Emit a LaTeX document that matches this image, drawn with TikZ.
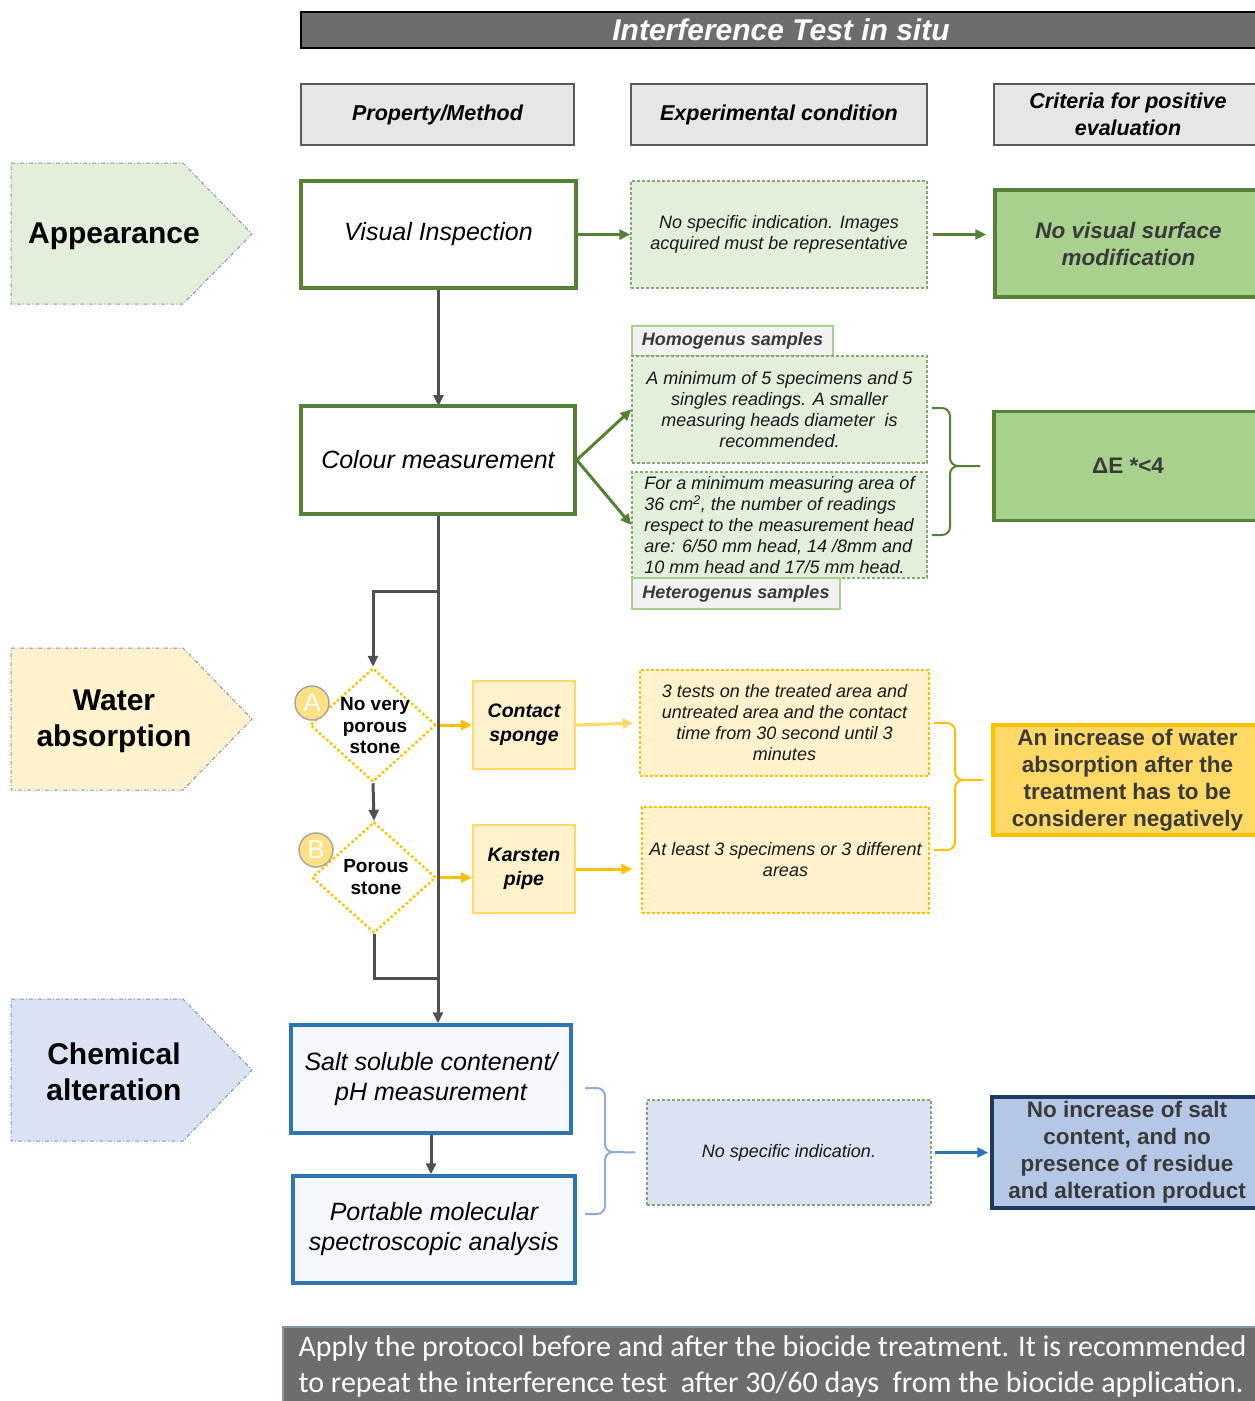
\documentclass[tikz,border=0pt]{standalone}
\usepackage{fontspec}
\setmainfont{Liberation Sans}
\newfontfamily\calibri{Carlito}
\usetikzlibrary{arrows.meta,positioning,shapes.geometric}

\definecolor{darkgreen}{HTML}{548235}
\definecolor{midgreen}{HTML}{A9D18E}
\definecolor{greenfill}{HTML}{E2EFDA}
\definecolor{orange}{HTML}{FFC000}
\definecolor{paleorange}{HTML}{FFD966}
\definecolor{yellowfill}{HTML}{FFF2CC}
\definecolor{bluec}{HTML}{2E75B6}
\definecolor{navy}{HTML}{203864}
\definecolor{midblue}{HTML}{B4C7E7}
\definecolor{bluefill}{HTML}{DAE3F3}
\definecolor{paleblue}{HTML}{F4F7FC}
\definecolor{bracelue}{HTML}{8FAADC}
\definecolor{titlegray}{HTML}{6D6D6D}
\definecolor{headfill}{HTML}{E7E6E6}
\definecolor{headgray}{HTML}{595959}
\definecolor{linegray}{HTML}{505050}
\definecolor{textgray}{HTML}{3A3A3A}
\definecolor{labfill}{HTML}{F2F2F2}
\definecolor{tagline}{HTML}{8497B0}
\definecolor{markerfill}{HTML}{FFE082}
\definecolor{markergray}{HTML}{A6A6A6}

\begin{document}
\begin{tikzpicture}[x=1pt,y=-1pt,
	titlebar/.style={draw=black, line width=2.5pt, fill=titlegray, text=white, font=\fontsize{30}{36}\selectfont\bfseries\itshape, minimum width=960, minimum height=36},
	colhead/.style={draw=headgray, line width=1.5pt, fill=headfill, font=\fontsize{21.5}{27}\selectfont\bfseries\itshape, align=center, minimum height=61},
	tag/.style={draw=tagline, line width=1pt, dash pattern=on 4pt off 2pt on 1pt off 2pt},
	tagtext/.style={font=\fontsize{30}{36}\selectfont\bfseries, align=center},
	method/.style={draw, line width=3.5pt, font=\fontsize{25}{30}\selectfont\itshape, align=center},
	cond/.style={draw, line width=1.2pt, dash pattern=on 3pt off 2pt, text=black!90, font=\fontsize{18}{21}\selectfont\itshape, align=center},
	result/.style={draw, line width=3.5pt, text=textgray, font=\fontsize{22.5}{27}\selectfont\bfseries, align=center},
	samplelab/.style={draw=midgreen, line width=1.2pt, fill=labfill, text=textgray, font=\fontsize{18}{21}\selectfont\bfseries\itshape},
	choice/.style={diamond, draw=orange, line width=2.5pt, dash pattern=on 2.5pt off 2.5pt, fill=white, minimum width=126, minimum height=114, inner sep=0},
	choicetext/.style={font=\fontsize{19}{21.5}\selectfont\bfseries, align=center},
	tool/.style={draw=paleorange, line width=2pt, fill=yellowfill, minimum width=102, minimum height=88, font=\fontsize{19.5}{24}\selectfont\bfseries\itshape, align=center},
	marker/.style={circle, draw=markergray, line width=1.5pt, fill=markerfill, text=white, minimum size=34, inner sep=0, font=\fontsize{26}{26}\selectfont},
	flow/.style={draw=linegray, line width=3pt, -{Triangle[length=11pt,width=10pt]}},
	link/.style={line width=3pt, -{Triangle[length=11pt,width=10pt]}},
	brace/.style={line width=2pt, rounded corners=8pt}]
	\useasboundingbox (0,0) rectangle (1255,1401);

	% heading
	\node[titlebar] (title) at (781,30) {Interference Test in situ};
	\node[colhead, minimum width=273] (hprop) at (437.5,114.5) {Property/Method};
	\node[colhead, minimum width=296] (hcond) at (779,114.5) {Experimental condition};
	\node[colhead, minimum width=268] (hcrit) at (1128,114.5) {Criteria for positive\\evaluation};

	% property tags
	\draw[tag, fill=greenfill] (11,163) -- (183,163) -- (252,234) -- (183,304) -- (11,304) -- cycle;
	\node[tagtext] (appear) at (114,236) {Appearance};
	\draw[tag, fill=yellowfill] (11,648) -- (183,648) -- (252,719) -- (183,790) -- (11,790) -- cycle;
	\node[tagtext] (water) at (114,721) {Water\\absorption};
	\draw[tag, fill=bluefill] (11,999) -- (183,999) -- (252,1070) -- (183,1141) -- (11,1141) -- cycle;
	\node[tagtext] (chem) at (114,1072) {Chemical\\alteration};

	% appearance
	\node[method, draw=darkgreen, fill=white, minimum width=275, minimum height=107] (vi) at (438.5,234.5) {Visual Inspection};
	\node[cond, draw=darkgreen!70, fill=greenfill, minimum width=296, minimum height=107] (ec1) at (779,234.5) {No specific indication. Images\\acquired must be representative};
	\node[result, draw=darkgreen, fill=midgreen, font=\fontsize{22.5}{27}\selectfont\bfseries\itshape, minimum width=267, minimum height=107] (r1) at (1128.5,243.5) {No visual surface\\modification};
	\draw[link, darkgreen] (vi.east) -- (ec1.west);
	\draw[link, darkgreen, shorten <=5pt, shorten >=7pt] (ec1.east) -- (ec1.east -| r1.west);
	\draw[flow] (vi.south) -- (vi.south |- 0,406);

	% colour
	\node[method, draw=darkgreen, fill=white, minimum width=274, minimum height=108] (cm) at (438,460) {Colour measurement};
	\node[samplelab, minimum width=201, minimum height=30] (homlab) at (732.5,341) {Homogenus samples};
	\node[cond, draw=darkgreen!70, fill=greenfill, minimum width=295, minimum height=107] (hom) at (779.5,409.5) {A minimum of 5 specimens and 5\\singles readings. A smaller\\measuring heads diameter \ is\\recommended.};
	\node[cond, draw=darkgreen!70, fill=greenfill, align=left, minimum width=295, minimum height=106] (het) at (779.5,525) {For a minimum measuring area of\\36 cm\textsuperscript{2}, the number of readings\\respect to the measurement head\\are: 6/50 mm head, 14 /8mm and\\10 mm head and 17/5 mm head.};
	\node[samplelab, minimum width=208, minimum height=31] (hetlab) at (736,593.5) {Heterogenus samples};
	\node[result, draw=darkgreen, fill=midgreen, minimum width=268, minimum height=109] (r2) at (1128,466) {ΔE *<4};
	\draw[link, darkgreen] (cm.east) -- (hom.west);
	\draw[link, darkgreen] (cm.east) -- (het.west);
	\draw[brace, darkgreen, shorten >=12pt] (932,408) -| (950,466) -- (r2.west);
	\draw[brace, darkgreen] (932,535) -| (950,466) -- (960,466);

	% water absorption
	\coordinate (split) at (438,591);
	\coordinate (merge) at (438,978);
	\node[choice] (dA) at (373,725) {};
	\node[choicetext] (dAtext) at (375,726) {No very\\porous\\stone};
	\node[choice, minimum width=124, minimum height=111] (dB) at (374,877.5) {};
	\node[choicetext] (dBtext) at (376,877) {Porous\\stone};
	\node[marker] (mA) at (312,703) {A};
	\node[marker] (mB) at (316,850) {B};
	\node[tool] (cs) at (524,725) {Contact\\sponge};
	\node[tool] (kp) at (524,869) {Karsten\\pipe};
	\node[cond, draw=orange, fill=yellowfill, minimum width=289, minimum height=106] (ec2) at (784.5,723) {3 tests on the treated area and\\untreated area and the contact\\time from 30 second until 3\\minutes};
	\node[cond, draw=orange, fill=yellowfill, minimum width=287, minimum height=106] (ec3) at (785.5,860) {At least 3 specimens or 3 different\\areas};
	\node[result, draw=orange, fill=paleorange, minimum width=269, minimum height=110] (r3) at (1127.5,780) {An increase of water\\absorption after the\\treatment has to be\\considerer negatively};
	\draw[flow] (split) -| (dA.north);
	\draw[flow] (dA.south) -- (dB.north);
	\draw[line width=3pt, linegray] (dB.south) |- (merge);
	\draw[link, orange] (dA.east) -- (cs.west);
	\draw[link, orange] (dB.east) -- (dB.east -| kp.west);
	\draw[link, paleorange, shorten >=6pt] (cs.east) -- (ec2.west);
	\draw[link, orange, shorten >=9pt] (kp.east) -- (kp.east -| ec3.west);
	\draw[brace, orange, shorten >=8pt] (934,723) -| (955,780) -- (r3.west);
	\draw[brace, orange] (934,850) -| (955,780) -- (965,780);

	% chemical alteration
	\node[method, draw=bluec, fill=paleblue, minimum width=280, minimum height=108] (salt) at (431,1079) {Salt soluble contenent/\\pH measurement};
	\node[method, draw=bluec, fill=paleblue, minimum width=282, minimum height=107] (pm) at (434,1229.5) {Portable molecular\\spectroscopic analysis};
	\node[cond, draw=darkgreen!70, fill=bluefill, minimum width=284, minimum height=105] (ec4) at (789,1152.5) {No specific indication.};
	\node[result, draw=navy, fill=midblue, minimum width=270, minimum height=111] (r4) at (1127,1152.5) {No increase of salt\\content, and no\\presence of residue\\and alteration product};
	\draw[flow] (cm.south) -- (cm.south |- salt.north);
	\draw[flow] (salt.south) -- (salt.south |- pm.north);
	\draw[brace, bracelue, shorten >=11pt] (585,1088) -| (605,1152) -- (ec4.west);
	\draw[brace, bracelue] (585,1214) -| (605,1152) -- (615,1152);
	\draw[link, bluec, shorten <=3pt, shorten >=2pt] (ec4.east) -- (ec4.east -| r4.west);

	% note
	\node[draw=tagline, line width=1.5pt, fill=titlegray, text=white, align=left, minimum width=979, minimum height=78, font=\calibri\fontsize{30}{36}\selectfont] (note) at (772.5,1366) {Apply the protocol before and after the biocide treatment. It is recommended\\to repeat the interference test \ after 30/60 days \ from the biocide application.};
\end{tikzpicture}
\end{document}
